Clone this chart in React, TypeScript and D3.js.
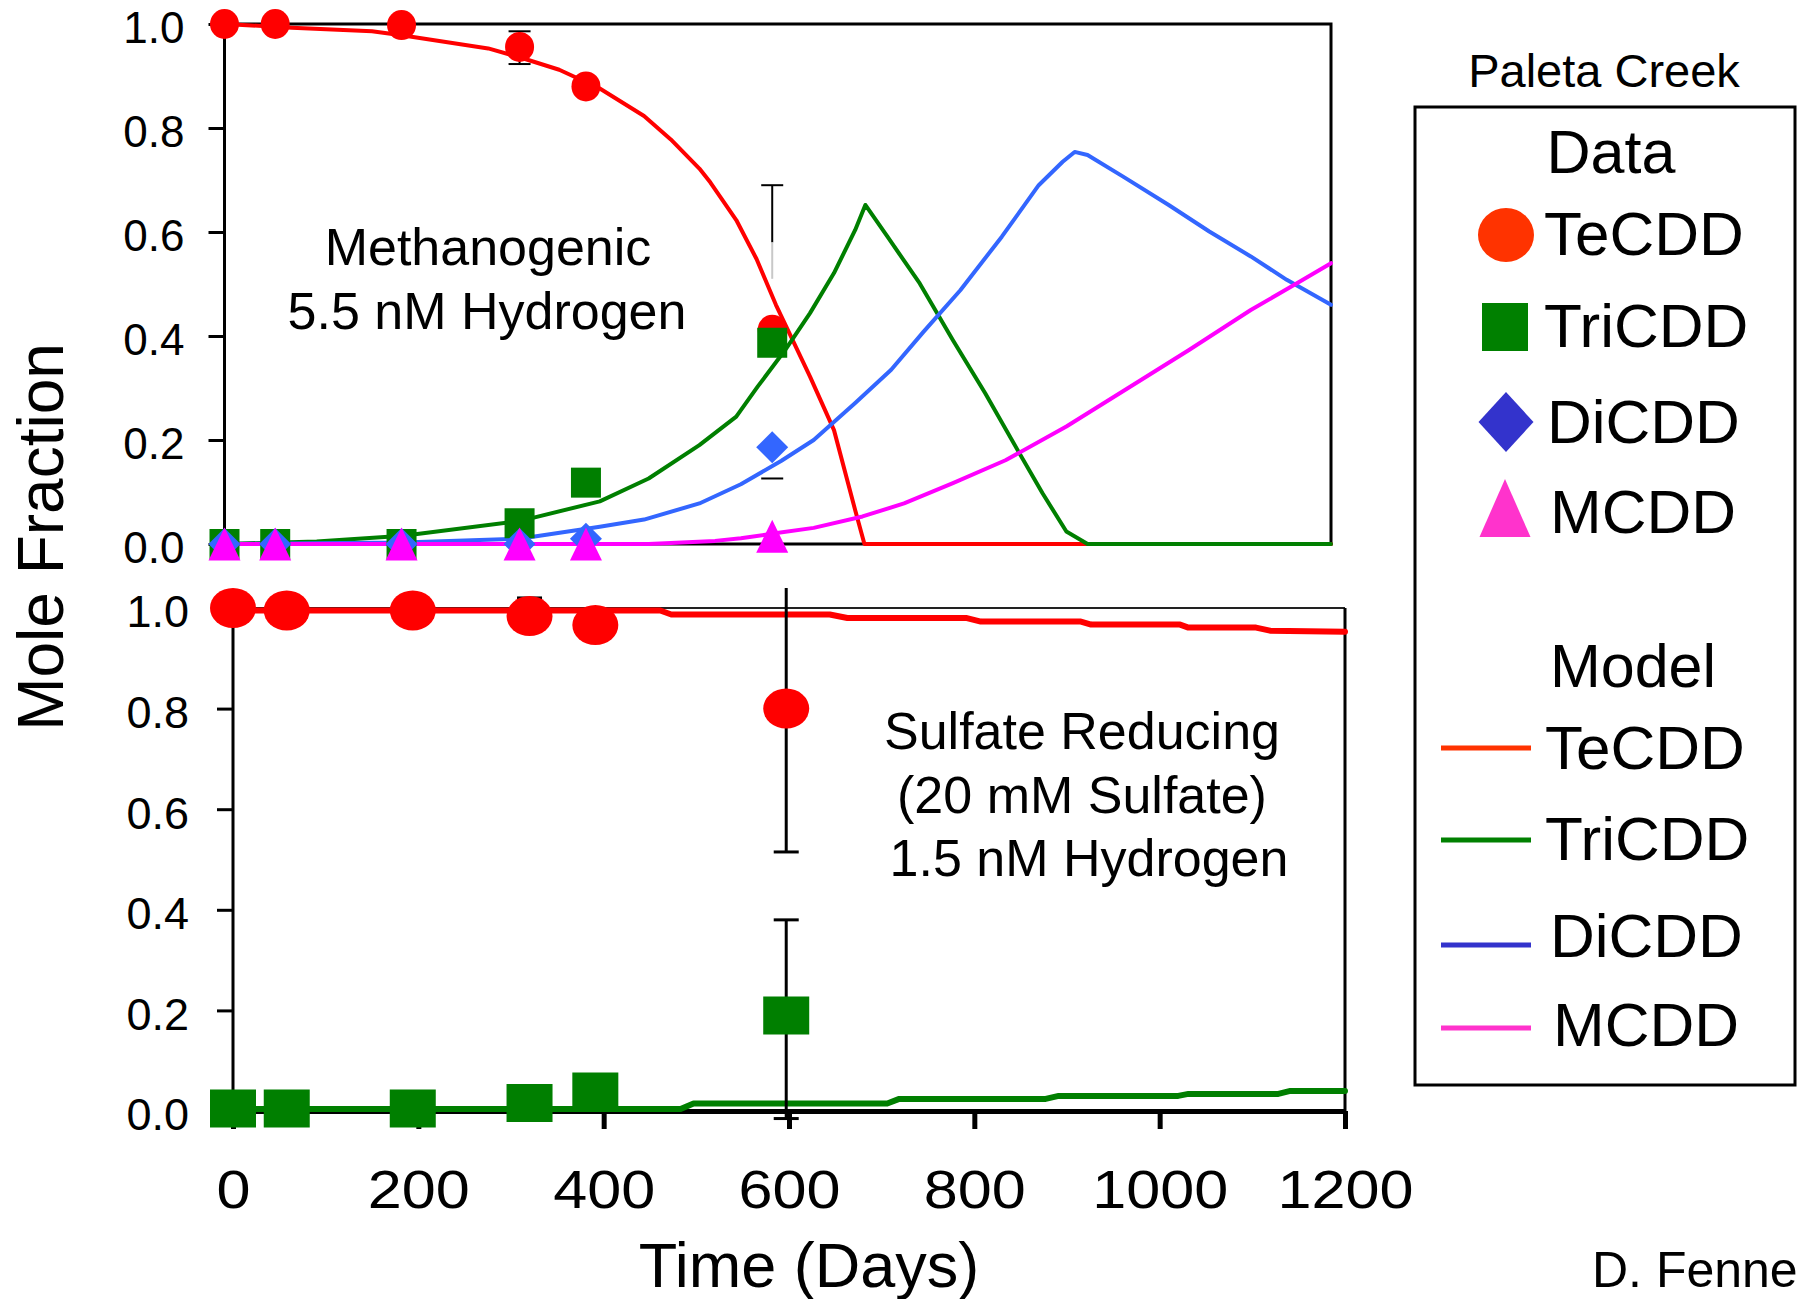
import React, { useEffect, useRef } from 'react'
import * as d3 from 'd3'

const FONT = '"Liberation Sans", Arial, Helvetica, sans-serif'

// ---- Data: measured points ----
const daysMethano = [0, 55, 192, 320, 392, 594]
const teMethano = [1.0, 1.0, 0.998, 0.956, 0.88, 0.412]
const triMethano = [0, 0, 0, 0.04, 0.118, 0.387]
const diMethano = [0, 0, 0, 0, 0.01, 0.186]
const mMethano = [0, 0, 0, 0, 0, 0.015]

const daysSulfate = [0, 58, 194, 320, 391, 597]
const teSulfate = [1.0, 0.995, 0.995, 0.984, 0.966, 0.8]
const triSulfate = [0.005, 0.005, 0.005, 0.016, 0.039, 0.19]

// error bars: day, low, high (cut = where the drawn whisker stops)
const errMethano = [
    { day: 320, lo: 0.923, hi: 0.986, cut: null },
    { day: 594, lo: 0.126, hi: 0.69, cut: 0.51 },
]
const errSulfate = [
    { day: 320, lo: 0.96, hi: 1.02, cut: null },
    { day: 597, lo: 0.515, hi: 1.04, cut: null, noTopCap: true },
    { day: 597, lo: -0.015, hi: 0.38, cut: null },
]

// ---- Data: model curves [day, mole fraction] ----
const teModelMethano = [[0, 1.0], [73, 0.993], [160, 0.986], [194, 0.978], [286, 0.953], [320, 0.936], [363, 0.912], [407, 0.876], [455, 0.823], [484, 0.778], [515, 0.722], [527, 0.695], [555, 0.623], [577, 0.548], [598, 0.46], [635, 0.322], [661, 0.219], [684, 0.065], [694, 0], [1200, 0]]
const triModelMethano = [[0, 0], [100, 0.005], [194, 0.016], [320, 0.044], [407, 0.082], [460, 0.126], [515, 0.19], [555, 0.245], [578, 0.302], [608, 0.373], [635, 0.444], [661, 0.521], [684, 0.604], [695, 0.652], [719, 0.591], [754, 0.501], [790, 0.392], [825, 0.29], [860, 0.181], [887, 0.098], [913, 0.024], [936, 0], [1200, 0]]
const diModelMethano = [[0, 0], [194, 0.003], [320, 0.01], [407, 0.033], [455, 0.047], [515, 0.078], [560, 0.115], [604, 0.16], [639, 0.2], [684, 0.271], [723, 0.335], [758, 0.408], [798, 0.488], [843, 0.591], [883, 0.69], [909, 0.735], [922, 0.754], [936, 0.748], [975, 0.706], [1024, 0.652], [1068, 0.601], [1113, 0.553], [1152, 0.508], [1200, 0.46]]
const mModelMethano = [[0, 0], [460, 0], [532, 0.006], [560, 0.011], [595, 0.02], [639, 0.031], [692, 0.053], [737, 0.078], [790, 0.117], [847, 0.161], [913, 0.226], [980, 0.3], [1046, 0.373], [1113, 0.45], [1157, 0.495], [1200, 0.54]]

const teModelSulfate = [[0, 0.995], [461, 0.995], [473, 0.987], [644, 0.987], [663, 0.98], [792, 0.98], [807, 0.973], [915, 0.973], [926, 0.967], [1022, 0.967], [1031, 0.961], [1104, 0.961], [1119, 0.955], [1200, 0.953]]
const triModelSulfate = [[0, 0.004], [483, 0.004], [497, 0.015], [706, 0.015], [719, 0.024], [877, 0.024], [891, 0.03], [1020, 0.03], [1031, 0.034], [1128, 0.034], [1141, 0.04], [1200, 0.04]]

// ---- Axes / legend labels ----
const yTicks = [0, 0.2, 0.4, 0.6, 0.8, 1.0]
const xTicks = [0, 200, 400, 600, 800, 1000, 1200]
const compounds = ['TeCDD', 'TriCDD', 'DiCDD', 'MCDD']

const plotColors = ['#ff0000', '#007f00', '#3366ff', '#ff00ff']
const legendColors = ['#ff3300', '#008000', '#3333cc', '#ff33cc']

// Chart utils
function drawLine(g, x, y, pts, color, width) {
    const line = d3.line().x(d => x(d[0])).y(d => y(d[1]))
    g.append('path')
        .attr('d', line(pts))
        .attr('fill', 'none')
        .attr('stroke', color)
        .attr('stroke-width', width)
        .attr('stroke-linejoin', 'round')
        .attr('stroke-linecap', 'round')
}

function markerPath(shape, cx, cy, w, h) {
    if (shape === 'diamond') {
        return `M${cx},${cy - h / 2}L${cx + w / 2},${cy}L${cx},${cy + h / 2}L${cx - w / 2},${cy}Z`
    }
    if (shape === 'triangle') {
        return `M${cx},${cy - h / 2}L${cx + w / 2},${cy + h / 2}L${cx - w / 2},${cy + h / 2}Z`
    }
    if (shape === 'square') {
        return `M${cx - w / 2},${cy - h / 2}h${w}v${h}h${-w}Z`
    }
    return ''
}

function drawMarkers(g, x, y, days, values, shape, color, w, h) {
    const pts = days.map((d, i) => [d, values[i]])
    if (shape === 'circle') {
        g.selectAll(null).data(pts).enter().append('ellipse')
            .attr('cx', d => x(d[0])).attr('cy', d => y(d[1]))
            .attr('rx', w / 2).attr('ry', h / 2)
            .attr('fill', color)
        return
    }
    g.selectAll(null).data(pts).enter().append('path')
        .attr('d', d => markerPath(shape, x(d[0]), y(d[1]), w, h))
        .attr('fill', color)
}

function drawErrorBars(g, x, y, errs, width, capW) {
    errs.forEach(e => {
        const cx = x(e.day)
        const bottom = e.cut === null ? e.lo : e.cut
        if (e.cut !== null) {
            g.append('line').attr('x1', cx).attr('x2', cx)
                .attr('y1', y(e.hi)).attr('y2', y(e.cut + 0.07))
                .attr('stroke', '#000').attr('stroke-width', width)
            g.append('line').attr('x1', cx).attr('x2', cx)
                .attr('y1', y(e.cut + 0.07)).attr('y2', y(bottom))
                .attr('stroke', '#c8c8c8').attr('stroke-width', width)
        } else {
            g.append('line').attr('x1', cx).attr('x2', cx)
                .attr('y1', y(e.hi)).attr('y2', y(e.lo))
                .attr('stroke', '#000').attr('stroke-width', width)
        }
        const caps = e.noTopCap ? [e.lo] : [e.hi, e.lo]
        caps.forEach(v => {
            g.append('line').attr('x1', cx - capW / 2).attr('x2', cx + capW / 2)
                .attr('y1', y(v)).attr('y2', y(v))
                .attr('stroke', '#000').attr('stroke-width', width)
        })
    })
}

function drawYAxis(g, x0, y, fontSize, pad) {
    const axis = g.append('g')
        .attr('transform', `translate(${x0},0)`)
        .call(d3.axisLeft(y).tickValues(yTicks).tickSize(16).tickSizeOuter(0).tickPadding(pad).tickFormat(d3.format('.1f')))
    axis.select('.domain').remove()
    axis.selectAll('line').attr('stroke', '#000').attr('stroke-width', 3)
    axis.selectAll('text')
        .attr('font-family', FONT).attr('font-size', fontSize).attr('fill', '#000')
        .attr('dy', '0.42em')
    return axis
}

function addText(svg, txt, x, y, size, anchor = 'middle') {
    return svg.append('text')
        .attr('x', x).attr('y', y)
        .attr('font-family', FONT).attr('font-size', size)
        .attr('text-anchor', anchor).attr('fill', '#000')
        .text(txt)
}

function ChartApp() {
    const ref = useRef(null)

    useEffect(() => {
        const svg = d3.select(ref.current)
        svg.selectAll('*').remove()

        // ---------- Top panel: Methanogenic ----------
        const xTop = d3.scaleLinear().domain([0, 1200]).range([224.5, 1331])
        const yTop = d3.scaleLinear().domain([0, 1]).range([544, 24])
        const top = svg.append('g')

        drawYAxis(top, 224.5, yTop, 44, 24)
        // frame
        top.append('path')
            .attr('d', `M${xTop(0)},${yTop(0)}V${yTop(1)}H${xTop(1200)}V${yTop(0)}H${xTop(0)}`)
            .attr('fill', 'none').attr('stroke', '#000').attr('stroke-width', 3)

        const modelsTop = [teModelMethano, triModelMethano, diModelMethano, mModelMethano]
        modelsTop.forEach((m, i) => drawLine(top, xTop, yTop, m, plotColors[i], 4))
        drawErrorBars(top, xTop, yTop, errMethano, 2, 22)
        drawMarkers(top, xTop, yTop, daysMethano, teMethano, 'circle', plotColors[0], 29, 30)
        drawMarkers(top, xTop, yTop, daysMethano, triMethano, 'square', plotColors[1], 30, 30)
        drawMarkers(top, xTop, yTop, daysMethano, diMethano, 'diamond', plotColors[2], 32, 32)
        drawMarkers(top, xTop, yTop, daysMethano, mMethano, 'triangle', plotColors[3], 32, 33)

        addText(top, 'Methanogenic', 488, 265, 52)
        addText(top, '5.5 nM Hydrogen', 487, 329, 52)

        // ---------- Bottom panel: Sulfate reducing ----------
        const xBot = d3.scaleLinear().domain([0, 1200]).range([233, 1345])
        const yBot = d3.scaleLinear().domain([0, 1]).range([1111, 608])
        const bot = svg.append('g')

        drawYAxis(bot, 233, yBot, 45, 28)
        bot.append('line').attr('x1', 233).attr('x2', 1345).attr('y1', 608).attr('y2', 608)
            .attr('stroke', '#222').attr('stroke-width', 2)
        bot.append('line').attr('x1', 1345).attr('x2', 1345).attr('y1', 608).attr('y2', 1111)
            .attr('stroke', '#000').attr('stroke-width', 3)
        bot.append('line').attr('x1', 233).attr('x2', 233).attr('y1', 608).attr('y2', 1111)
            .attr('stroke', '#000').attr('stroke-width', 3)

        const xAxis = bot.append('g')
            .attr('transform', `translate(0,${yBot(0)})`)
            .call(d3.axisBottom(xBot).tickValues(xTicks).tickSize(18).tickSizeOuter(0).tickPadding(41).tickFormat(d => String(d)))
        xAxis.select('.domain').attr('stroke', '#000').attr('stroke-width', 5)
        xAxis.selectAll('line').attr('stroke', '#000').attr('stroke-width', 5)
        xAxis.selectAll('text')
            .attr('font-family', FONT).attr('font-size', 53).attr('fill', '#000')
            .attr('dy', '0.72em')
            .attr('textLength', d => String(d).length * 34)
            .attr('lengthAdjust', 'spacingAndGlyphs')

        drawLine(bot, xBot, yBot, teModelSulfate, plotColors[0], 6)
        drawLine(bot, xBot, yBot, triModelSulfate, plotColors[1], 6)
        drawErrorBars(bot, xBot, yBot, errSulfate, 3, 25)
        drawMarkers(bot, xBot, yBot, daysSulfate, teSulfate, 'circle', plotColors[0], 46, 40)
        drawMarkers(bot, xBot, yBot, daysSulfate, triSulfate, 'square', plotColors[1], 46, 38)

        addText(bot, 'Sulfate Reducing', 1082, 749, 52)
        addText(bot, '(20 mM Sulfate)', 1082, 813, 52)
        addText(bot, '1.5 nM Hydrogen', 1089, 876, 52)

        // ---------- Axis titles ----------
        addText(svg, 'Time (Days)', 809, 1287, 63)
        addText(svg, 'Mole Fraction', 0, 0, 64)
            .attr('transform', 'translate(63,537) rotate(-90)')
        addText(svg, 'D. Fenne', 1592, 1287, 50, 'start')

        // ---------- Legend ----------
        const leg = svg.append('g')
        addText(leg, 'Paleta Creek', 1604, 87, 47)
        leg.append('rect').attr('x', 1415).attr('y', 107).attr('width', 380).attr('height', 978)
            .attr('fill', 'none').attr('stroke', '#000').attr('stroke-width', 3)
        addText(leg, 'Data', 1611, 173, 61)
        addText(leg, 'Model', 1633, 687, 61)

        const dataRowY = [255, 347, 443, 533]
        const dataTextX = [1544, 1544, 1547, 1550]
        const markerY = [235, 327, 422, 508]
        leg.append('ellipse').attr('cx', 1506).attr('cy', markerY[0]).attr('rx', 28).attr('ry', 27).attr('fill', legendColors[0])
        leg.append('path').attr('d', markerPath('square', 1505, markerY[1], 46, 48)).attr('fill', legendColors[1])
        leg.append('path').attr('d', markerPath('diamond', 1506, markerY[2], 55, 60)).attr('fill', legendColors[2])
        leg.append('path').attr('d', markerPath('triangle', 1505, markerY[3], 51, 58)).attr('fill', legendColors[3])
        compounds.forEach((c, i) => addText(leg, c, dataTextX[i], dataRowY[i], 62, 'start'))

        const modelRowY = [769, 860, 957, 1046]
        const modelTextX = [1545, 1545, 1550, 1553]
        const lineY = [748, 840, 945, 1028]
        compounds.forEach((c, i) => {
            leg.append('line').attr('x1', 1441).attr('x2', 1531).attr('y1', lineY[i]).attr('y2', lineY[i])
                .attr('stroke', legendColors[i]).attr('stroke-width', 5)
            addText(leg, c, modelTextX[i], modelRowY[i], 62, 'start')
        })
    }, [])

    return (
        <svg
            ref={ref}
            width={1804}
            height={1299}
            style={{ position: 'absolute', left: 0, top: 0, background: '#fff' }}
        />
    )
}

export default ChartApp
